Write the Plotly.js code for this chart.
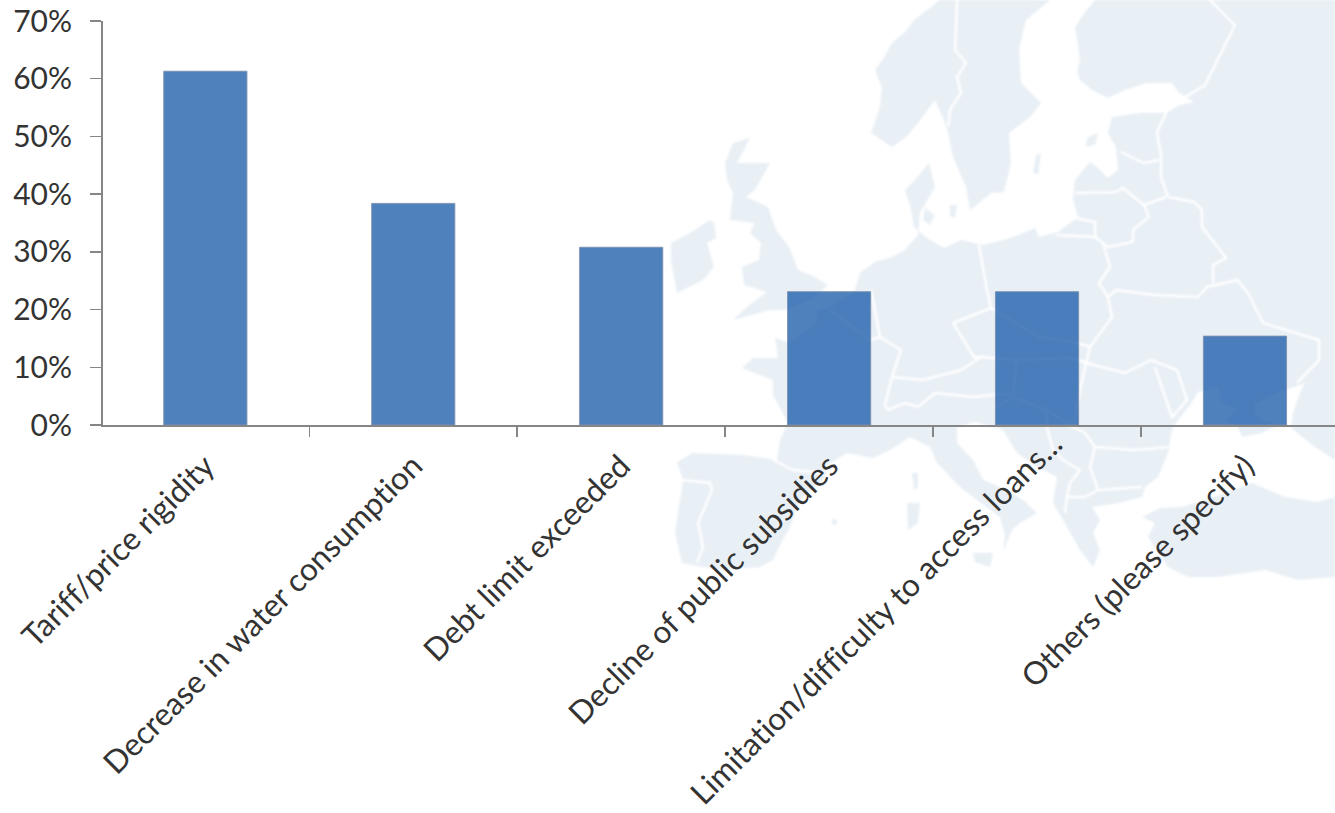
<!DOCTYPE html>
<html>
<head>
<meta charset="utf-8">
<script src="https://cdn.plot.ly/plotly-3.0.1.min.js"></script>
<style>
html,body{margin:0;padding:0;background:#fff}
#chart{width:1335px;height:813px}
.xtick text,.ytick text{font-variant-ligatures:none;font-feature-settings:"liga" 0}
.layer-below .shapelayer{filter:blur(0.9px)}
</style>
</head>
<body>
<div id="chart"></div>
<script>
const categories = ["Tariff/price rigidity","Decrease in water consumption","Debt limit exceeded","Decline of public subsidies","Limitation/difficulty to access loans...","Others (please specify)"];
const shares = [0.613,0.384,0.308,0.231,0.231,0.154];
const yTicks = [0,0.1,0.2,0.3,0.4,0.5,0.6,0.7];

// Decorative backdrop (not data): rough outline of Europe in page pixels.
const mapLand = [
 // continent
 [[1335,0],[1095,0],[1085,12],[1075,27],[1078,45],[1080,60],[1077,72],[1080,80],[1092,90],[1108,98],[1125,90],[1146,83],[1172,83],[1178,92],[1194,102],[1180,105],[1166,113],[1140,113],[1112,117],[1108,133],[1116,147],[1118,170],[1108,178],[1098,168],[1090,162],[1075,180],[1073,200],[1078,217],[1058,232],[1039,237],[1035,228],[1011,238],[983,245],[961,240],[944,248],[927,238],[914,227],[910,205],[905,190],[915,180],[929,163],[935,187],[920,213],[918,235],[905,250],[892,257],[875,262],[860,273],[854,293],[845,298],[830,307],[817,310],[817,323],[807,330],[790,343],[775,338],[778,358],[753,358],[742,368],[773,380],[773,395],[788,423],[780,440],[777,460],[743,455],[693,453],[677,462],[683,480],[675,533],[682,563],[720,570],[760,567],[773,560],[780,545],[790,527],[800,500],[825,478],[827,465],[847,453],[873,458],[890,450],[910,437],[930,447],[937,463],[960,487],[977,500],[1000,517],[1005,535],[1003,552],[1012,530],[1020,523],[1037,513],[1023,500],[1007,490],[983,480],[973,460],[957,443],[957,427],[975,422],[997,428],[1003,430],[1017,453],[1037,467],[1057,477],[1053,503],[1067,527],[1080,550],[1093,567],[1100,550],[1093,533],[1100,520],[1092,507],[1118,503],[1142,497],[1145,487],[1158,477],[1168,453],[1172,430],[1178,420],[1190,405],[1198,392],[1208,390],[1218,387],[1222,403],[1238,410],[1225,420],[1238,427],[1242,437],[1262,433],[1278,425],[1262,420],[1255,413],[1255,403],[1285,390],[1305,383],[1300,393],[1293,413],[1291,428],[1315,447],[1335,460]],
 // Turkey
 [[1252,483],[1285,497],[1318,502],[1335,497],[1335,577],[1298,580],[1265,570],[1218,577],[1188,577],[1168,567],[1148,537],[1155,523],[1142,517],[1160,508],[1182,507],[1220,495]],
 // Scandinavia
 [[940,0],[914,20],[905,32],[892,43],[884,58],[875,70],[882,88],[880,107],[871,133],[892,147],[905,138],[918,123],[935,100],[944,120],[948,133],[953,157],[966,187],[970,210],[991,193],[1004,192],[1011,163],[1009,133],[1030,117],[1041,103],[1021,83],[1019,50],[1026,20],[1050,0]],
 // Great Britain
 [[750,138],[733,143],[725,163],[727,180],[733,193],[730,220],[755,223],[750,233],[761,243],[759,260],[742,267],[744,285],[767,292],[747,307],[733,320],[770,310],[787,310],[815,297],[828,285],[815,277],[798,270],[793,257],[789,247],[776,230],[768,207],[746,197],[755,190],[770,163],[737,163]],
 // Ireland
 [[710,220],[690,233],[671,243],[671,260],[677,293],[703,280],[714,267],[707,243],[716,238],[714,223]],
 // islands
 [[912,473],[918,473],[918,487],[914,490]],
 [[907,503],[920,503],[918,523],[908,530]],
 [[973,553],[993,553],[990,567],[975,562]],
 [[832,519],[838,520],[836,525],[832,524]],
 [[1036,155],[1041,153],[1038,175],[1033,172]],
 [[1087,138],[1098,133],[1095,145],[1086,147]],
 [[950,205],[957,205],[955,218],[950,216]],
 [[925,208],[935,215],[930,225],[923,220]]
];
const mapBorders = [
 [[957,0],[955,50],[966,63],[957,77],[961,93],[950,110],[948,127]],
 [[1210,0],[1235,25],[1205,85],[1172,105]],
 [[1166,113],[1157,133],[1161,155],[1161,177],[1168,197]],
 [[1121,152],[1144,163],[1159,160]],
 [[1075,193],[1116,192],[1123,188],[1144,205],[1166,197]],
 [[1144,205],[1149,217],[1133,230],[1133,242],[1108,247],[1095,237],[1095,222],[1075,218]],
 [[1056,235],[1095,237]],
 [[1103,243],[1110,267],[1099,283],[1108,297],[1112,317],[1090,347],[1086,363]],
 [[1108,297],[1116,290],[1155,295],[1198,297],[1207,287],[1237,280],[1248,293],[1263,323],[1319,340],[1319,360],[1297,383]],
 [[1168,197],[1194,202],[1202,210],[1202,227],[1220,250],[1226,258],[1213,265],[1213,283]],
 [[979,245],[987,290],[991,308],[1039,337],[1078,343],[1090,347]],
 [[953,323],[991,308]],
 [[953,323],[974,357],[981,357],[961,370],[923,380],[892,377]],
 [[871,290],[880,337],[901,350],[892,377],[885,405],[888,410],[905,403],[918,407],[935,393],[974,397],[1011,393]],
 [[830,310],[870,340],[880,337]],
 [[981,357],[1017,360],[1073,358],[1086,363],[1125,373],[1151,360],[1177,370],[1187,400],[1172,417],[1155,367]],
 [[1017,360],[1013,397],[1047,410],[1073,427],[1085,433],[1095,447],[1135,450],[1168,447]],
 [[1086,363],[1080,390],[1073,427]],
 [[1047,410],[1047,427],[1053,450],[1063,460],[1080,470],[1070,483],[1067,497],[1065,513]],
 [[1095,447],[1090,467],[1098,490],[1085,497],[1067,497]],
 [[1098,490],[1142,487]],
 [[996,407],[1013,397]],
 [[683,480],[710,483],[712,490],[698,523],[703,547],[697,563]],
 [[773,460],[793,470],[823,473]]
];

const toPaperPath = (pts, closed) => {
  const p = pts.map(([x,y],i)=>(i?'L':'M')+((x-103)/1232).toFixed(4)+' '+((425-y)/404).toFixed(4)).join(' ');
  return closed ? p+' Z' : p;
};
const shapes = [
  ...mapLand.map(pts=>({type:'path',xref:'paper',yref:'paper',layer:'below',path:toPaperPath(pts,true),fillcolor:'#e8eff5',line:{width:0}})),
  ...mapBorders.map(pts=>({type:'path',xref:'paper',yref:'paper',layer:'below',path:toPaperPath(pts,false),fillcolor:'rgba(0,0,0,0)',line:{color:'#ffffff',width:2.5}}))
];

const trace = {type:'bar',x:categories,y:shares,marker:{color:'rgba(20,87,167,0.75)',line:{width:1,color:'rgba(125,145,175,0.9)'}},hoverinfo:'skip'};
const xFont = {family:'Lato, Carlito, sans-serif',size:31.5,color:'#333333'};
const yFont = {family:'Lato, Carlito, sans-serif',size:30,color:'#333333'};
const layout = {
  width:1335,height:813,showlegend:false,
  paper_bgcolor:'rgba(255,255,255,0)',plot_bgcolor:'rgba(255,255,255,0)',
  margin:{l:103,r:0,t:21,b:388,pad:0},
  bargap:0.6,
  xaxis:{type:'category',range:[-0.4922,5.433],tickson:'boundaries',ticks:'outside',ticklen:10,tickwidth:1.5,tickcolor:'#868686',
    showline:true,linecolor:'#868686',linewidth:2,showgrid:false,zeroline:false,tickangle:-45,tickfont:xFont,ticklabelstandoff:8,automargin:false},
  yaxis:{range:[0,0.7],tickvals:yTicks,tickformat:'.0%',ticks:'outside',ticklen:11,tickwidth:1.5,tickcolor:'#868686',
    showline:true,linecolor:'#868686',linewidth:2,showgrid:false,zeroline:false,tickfont:yFont,ticklabelstandoff:12,automargin:false},
  shapes
};
Plotly.newPlot('chart',[trace],layout,{displayModeBar:false,staticPlot:true}).then(gd=>{
  // The truncated label sits further up and right in the reference, which also keeps it on the page.
  gd.querySelectorAll('.xtick text').forEach(t=>{
    if(t.textContent.startsWith('Limitation')){
      t.setAttribute('transform','translate(16,-22) '+(t.getAttribute('transform')||''));
    }
  });
});
</script>
</body>
</html>
